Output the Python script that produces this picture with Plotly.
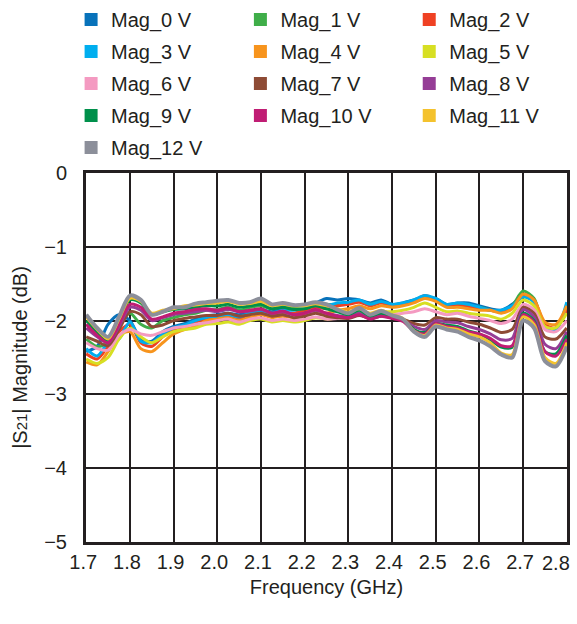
import plotly.graph_objects as go

freq = [1.700, 1.725, 1.750, 1.775, 1.800, 1.825, 1.850, 1.875, 1.900, 1.925,
        1.950, 1.975, 2.000, 2.025, 2.050, 2.075, 2.100, 2.125, 2.150, 2.175,
        2.200, 2.225, 2.250, 2.275, 2.300, 2.325, 2.350, 2.375, 2.400, 2.425,
        2.450, 2.475, 2.500, 2.525, 2.550, 2.575, 2.600, 2.625, 2.650, 2.675,
        2.700, 2.725, 2.750, 2.775, 2.800]

mag_0v = [-2.42, -2.35, -2.05, -1.92, -2.00, -2.25, -2.28, -2.15, -2.08, -2.04,
          -1.98, -1.94, -1.92, -1.90, -1.92, -1.88, -1.85, -1.88, -1.84, -1.84,
          -1.80, -1.76, -1.70, -1.72, -1.70, -1.72, -1.76, -1.72, -1.78, -1.76,
          -1.72, -1.68, -1.70, -1.78, -1.76, -1.76, -1.80, -1.84, -1.86, -1.78,
          -1.66, -1.74, -2.08, -2.12, -1.78]
mag_1v = [-2.25, -2.35, -2.30, -2.05, -1.90, -2.05, -2.10, -2.00, -1.96, -1.92,
          -1.90, -1.86, -1.85, -1.82, -1.86, -1.82, -1.80, -1.84, -1.80, -1.82,
          -1.80, -1.76, -1.78, -1.78, -1.76, -1.74, -1.78, -1.75, -1.80, -1.78,
          -1.74, -1.68, -1.72, -1.80, -1.78, -1.80, -1.82, -1.86, -1.88, -1.80,
          -1.60, -1.70, -2.08, -2.10, -1.82]
mag_2v = [-2.45, -2.52, -2.35, -2.15, -2.05, -2.30, -2.35, -2.22, -2.12, -2.08,
          -2.02, -1.98, -1.95, -1.93, -1.97, -1.92, -1.90, -1.93, -1.90, -1.90,
          -1.86, -1.82, -1.84, -1.80, -1.78, -1.75, -1.80, -1.76, -1.80, -1.78,
          -1.74, -1.66, -1.72, -1.80, -1.80, -1.82, -1.84, -1.86, -1.88, -1.82,
          -1.65, -1.72, -2.05, -2.10, -1.85]
mag_3v = [-2.38, -2.48, -2.30, -2.25, -2.02, -2.28, -2.30, -2.18, -2.10, -2.06,
          -2.00, -1.96, -1.94, -1.92, -1.95, -1.90, -1.88, -1.90, -1.86, -1.86,
          -1.82, -1.78, -1.80, -1.76, -1.75, -1.72, -1.78, -1.74, -1.78, -1.76,
          -1.72, -1.66, -1.70, -1.78, -1.76, -1.78, -1.82, -1.86, -1.86, -1.80,
          -1.68, -1.75, -2.10, -2.12, -1.75]
mag_4v = [-2.56, -2.60, -2.42, -2.20, -2.15, -2.38, -2.42, -2.30, -2.18, -2.12,
          -2.08, -2.00, -1.98, -1.96, -2.00, -1.95, -1.92, -1.96, -1.94, -1.96,
          -1.92, -1.88, -1.90, -1.86, -1.84, -1.80, -1.84, -1.80, -1.82, -1.80,
          -1.76, -1.70, -1.74, -1.82, -1.82, -1.84, -1.86, -1.86, -1.90, -1.84,
          -1.64, -1.72, -2.02, -2.05, -1.80]
mag_5v = [-2.52, -2.58, -2.50, -2.25, -2.10, -2.22, -2.30, -2.22, -2.15, -2.12,
          -2.10, -2.05, -2.04, -2.02, -2.05, -2.00, -1.98, -2.02, -2.00, -2.02,
          -2.00, -1.96, -1.98, -1.96, -1.94, -1.90, -1.92, -1.88, -1.88, -1.86,
          -1.82, -1.76, -1.82, -1.88, -1.87, -1.90, -1.92, -1.94, -1.98, -1.90,
          -1.72, -1.80, -2.08, -2.10, -1.90]
mag_6v = [-2.30, -2.38, -2.40, -2.20, -2.12, -2.18, -2.20, -2.15, -2.10, -2.08,
          -2.05, -2.03, -2.00, -1.98, -2.02, -1.98, -1.96, -2.00, -1.98, -2.00,
          -1.98, -1.95, -1.98, -1.97, -1.96, -1.92, -1.95, -1.92, -1.92, -1.90,
          -1.88, -1.84, -1.88, -1.92, -1.90, -1.94, -1.97, -2.00, -2.04, -1.98,
          -1.78, -1.85, -2.12, -2.15, -2.00]
mag_7v = [-2.22, -2.28, -2.34, -2.12, -1.88, -1.92, -2.08, -2.06, -2.00, -1.97,
          -1.95, -1.93, -1.93, -1.90, -1.94, -1.92, -1.90, -1.94, -1.92, -1.96,
          -1.94, -1.90, -1.94, -1.96, -1.97, -1.93, -1.97, -1.94, -1.95, -1.98,
          -2.04, -2.06, -1.96, -1.98, -1.98, -2.02, -2.05, -2.10, -2.16, -2.12,
          -1.82, -1.90, -2.22, -2.25, -2.10]
mag_8v = [-2.10, -2.22, -2.30, -2.08, -1.82, -1.86, -2.00, -1.96, -1.92, -1.90,
          -1.88, -1.86, -1.88, -1.85, -1.88, -1.87, -1.85, -1.90, -1.88, -1.92,
          -1.90, -1.86, -1.90, -1.93, -1.95, -1.90, -1.96, -1.92, -1.95, -1.99,
          -2.08, -2.12, -2.00, -2.02, -2.03, -2.08, -2.12, -2.18, -2.26, -2.24,
          -1.85, -1.95, -2.32, -2.38, -2.15]
mag_9v = [-2.00, -2.16, -2.28, -2.00, -1.72, -1.76, -1.92, -1.88, -1.85, -1.84,
          -1.82, -1.80, -1.80, -1.78, -1.82, -1.80, -1.78, -1.84, -1.82, -1.85,
          -1.84, -1.80, -1.84, -1.88, -1.92, -1.86, -1.94, -1.90, -1.95, -1.99,
          -2.12, -2.16, -2.04, -2.06, -2.08, -2.14, -2.18, -2.26, -2.36, -2.36,
          -1.90, -2.00, -2.42, -2.45, -2.20]
mag_10v = [-2.05, -2.20, -2.30, -2.05, -1.78, -1.82, -1.98, -1.95, -1.90, -1.88,
           -1.85, -1.84, -1.86, -1.83, -1.88, -1.86, -1.84, -1.90, -1.87, -1.92,
           -1.90, -1.85, -1.90, -1.94, -1.96, -1.92, -1.98, -1.94, -1.97, -2.01,
           -2.14, -2.18, -2.04, -2.08, -2.10, -2.15, -2.18, -2.24, -2.34, -2.34,
           -1.92, -2.02, -2.42, -2.48, -2.25]
mag_11v = [-1.95, -2.12, -2.25, -1.98, -1.70, -1.74, -1.90, -1.86, -1.84, -1.80,
           -1.79, -1.77, -1.76, -1.74, -1.78, -1.77, -1.74, -1.80, -1.78, -1.80,
           -1.80, -1.77, -1.80, -1.84, -1.88, -1.84, -1.90, -1.86, -1.92, -1.97,
           -2.14, -2.20, -2.06, -2.10, -2.12, -2.18, -2.22, -2.30, -2.44, -2.46,
           -1.95, -2.05, -2.50, -2.58, -2.30]
mag_12v = [-1.92, -2.10, -2.22, -1.95, -1.66, -1.72, -1.92, -1.88, -1.82, -1.82,
           -1.77, -1.75, -1.73, -1.72, -1.76, -1.75, -1.70, -1.78, -1.76, -1.79,
           -1.78, -1.75, -1.78, -1.85, -1.90, -1.83, -1.92, -1.87, -1.93, -1.98,
           -2.15, -2.22, -2.08, -2.12, -2.15, -2.22, -2.27, -2.35, -2.46, -2.50,
           -2.00, -2.10, -2.55, -2.62, -2.35]

series_names = ["Mag_0 V", "Mag_1 V", "Mag_2 V", "Mag_3 V", "Mag_4 V", "Mag_5 V",
                "Mag_6 V", "Mag_7 V", "Mag_8 V", "Mag_9 V", "Mag_10 V",
                "Mag_11 V", "Mag_12 V"]
series_values = [mag_0v, mag_1v, mag_2v, mag_3v, mag_4v, mag_5v, mag_6v,
                 mag_7v, mag_8v, mag_9v, mag_10v, mag_11v, mag_12v]
series_colors = ["#0872BA", "#3FAE49", "#EF4123", "#00AEEF", "#F7941D",
                 "#D7DF23", "#F49AC1", "#8E4B35", "#953D96", "#00904B",
                 "#C01D74", "#F4C22D", "#8C8F9A"]

x_ticks = [1.7, 1.8, 1.9, 2.0, 2.1, 2.2, 2.3, 2.4, 2.5, 2.6, 2.7, 2.8]
x_ticklabels = ["1.7", "1.8", "1.9", "2.0", "2.1", "2.2", "2.3", "2.4", "2.5",
                "2.6", "2.7", "2.8"]
y_ticks = [0, -1, -2, -3, -4, -5]
y_ticktext = ["0", "\u22121", "\u22122", "\u22123", "\u22124", "\u22125"]

FONT = "Liberation Sans, Arial, Helvetica, sans-serif"
TXT = "#231F20"

fig = go.Figure()
for name, vals, col in zip(series_names, series_values, series_colors):
    fig.add_trace(go.Scatter(
        x=freq, y=vals, mode="lines", name=name, showlegend=False,
        line=dict(color=col, width=4 if name == "Mag_12 V" else 3,
                  shape="spline", smoothing=0.8),
        hoverinfo="x+y+name"))

legend_ids = ["legend", "legend2", "legend3"]
for i, (name, col) in enumerate(zip(series_names, series_colors)):
    fig.add_trace(go.Scatter(
        x=[None], y=[None], mode="markers", name=name,
        legend=legend_ids[i % 3], legendgroup=name,
        marker=dict(symbol="square", size=13, color=col)))

leg_common = dict(orientation="v", xanchor="left", y=1, yanchor="top",
                  xref="paper", yref="container", traceorder="grouped",
                  tracegroupgap=3, bgcolor="rgba(0,0,0,0)",
                  font=dict(family=FONT, size=20, color=TXT))

# the last x tick label sits at the right edge of the figure, so it is
# right-aligned to its grid line instead of centred (as in the reference)
axis_ticktext = x_ticklabels[:-1] + [""]

fig.update_layout(
    width=577, height=624,
    margin=dict(l=86, r=10, t=173, b=82, autoexpand=False),
    paper_bgcolor="white", plot_bgcolor="white",
    font=dict(family=FONT, size=20, color=TXT),
    showlegend=True,
    legend=dict(x=-0.031, **leg_common),
    legend2=dict(x=0.321, **leg_common),
    legend3=dict(x=0.672, **leg_common),
    xaxis=dict(range=[1.6995, 2.8005], tickvals=x_ticks, ticktext=axis_ticktext,
               ticklabelshift=-3,
               showgrid=True, gridcolor=TXT, gridwidth=1.5,
               showline=True, linecolor=TXT, linewidth=3, mirror=True,
               ticks="", zeroline=False, ticklabelstandoff=0,
               title=dict(text="Frequency (GHz)", standoff=8,
                          font=dict(family=FONT, size=20))),
    yaxis=dict(range=[-5, 0], tickvals=y_ticks, ticktext=y_ticktext,
               showgrid=True, gridcolor=TXT, gridwidth=1.5,
               showline=True, linecolor=TXT, linewidth=3, mirror=True,
               ticks="", zeroline=False, ticklabelstandoff=12,
               title=dict(text="|S<span style='font-size:15px'>21</span>| Magnitude (dB)",
                          standoff=12, font=dict(family=FONT, size=20))),
    annotations=[dict(x=x_ticks[-1], xref="x", y=0, yref="paper",
                      text=x_ticklabels[-1], showarrow=False,
                      xanchor="right", yanchor="middle", xshift=5, yshift=-21,
                      font=dict(family=FONT, size=20, color=TXT))],
)

fig.write_html("out.html")
